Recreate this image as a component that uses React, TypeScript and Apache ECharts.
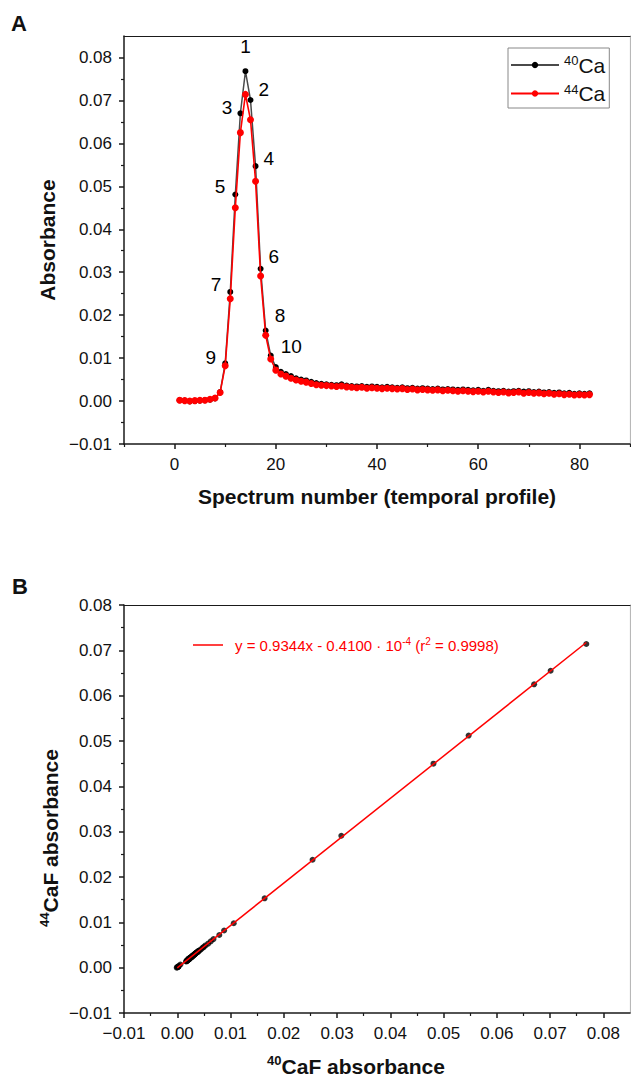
import React, { useEffect, useRef } from 'react';
import * as echarts from 'echarts';

// ---------- DATA ----------
const spectrumNumbers = [
  1, 2, 3, 4, 5, 6, 7, 8, 9, 10, 11, 12, 13, 14, 15, 16, 17, 18, 19, 20,
  21, 22, 23, 24, 25, 26, 27, 28, 29, 30, 31, 32, 33, 34, 35, 36, 37, 38, 39, 40,
  41, 42, 43, 44, 45, 46, 47, 48, 49, 50, 51, 52, 53, 54, 55, 56, 57, 58, 59, 60,
  61, 62, 63, 64, 65, 66, 67, 68, 69, 70, 71, 72, 73, 74, 75, 76, 77, 78, 79, 80,
  81, 82,
];

const ca40 = [
  0.0002, 0.0001, -0.0001, 0.0000, 0.0001, 0.0002, 0.0003, 0.0006, 0.0021, 0.0088,
  0.0254, 0.0481, 0.0670, 0.0768, 0.0701, 0.0547, 0.0308, 0.0164, 0.0106, 0.0079,
  0.0068, 0.0063, 0.0058, 0.0053, 0.0050, 0.0048, 0.0045, 0.0042, 0.0040, 0.0039,
  0.0038, 0.0037, 0.0039, 0.0036, 0.0035, 0.0034, 0.0035, 0.0033, 0.0034, 0.0033,
  0.0032, 0.0033, 0.0032, 0.0031, 0.0032, 0.0030, 0.0031, 0.0029, 0.0030, 0.0029,
  0.0028, 0.0029, 0.0027, 0.0028, 0.0027, 0.0026, 0.0027, 0.0026, 0.0025, 0.0026,
  0.0024, 0.0026, 0.0024, 0.0023, 0.0024, 0.0022, 0.0023, 0.0024, 0.0022, 0.0023,
  0.0021, 0.0022, 0.0020, 0.0021, 0.0019, 0.0020, 0.0018, 0.0019, 0.0017, 0.0018,
  0.0017, 0.0018,
];

const ca44 = [
  0.0002, 0.0001, 0.0000, 0.0001, 0.0002, 0.0002, 0.0004, 0.0007, 0.0020, 0.0082,
  0.0238, 0.0450, 0.0625, 0.0714, 0.0655, 0.0512, 0.0291, 0.0153, 0.0098, 0.0072,
  0.0063, 0.0058, 0.0053, 0.0049, 0.0046, 0.0044, 0.0041, 0.0038, 0.0037, 0.0036,
  0.0035, 0.0034, 0.0035, 0.0033, 0.0032, 0.0031, 0.0032, 0.0030, 0.0031, 0.0030,
  0.0029, 0.0030, 0.0029, 0.0028, 0.0029, 0.0027, 0.0028, 0.0026, 0.0027, 0.0026,
  0.0025, 0.0026, 0.0024, 0.0025, 0.0024, 0.0023, 0.0024, 0.0023, 0.0022, 0.0023,
  0.0021, 0.0023, 0.0021, 0.0020, 0.0021, 0.0019, 0.0020, 0.0021, 0.0018, 0.0020,
  0.0018, 0.0019, 0.0017, 0.0018, 0.0016, 0.0017, 0.0015, 0.0016, 0.0014, 0.0015,
  0.0014, 0.0015,
];

const peakLabels = ['1', '2', '3', '4', '5', '6', '7', '8', '9', '10'];
const peakSpectra = [14, 15, 13, 16, 12, 17, 11, 18, 10, 19];

const fitSlope = 0.9344;
const fitIntercept = -0.41e-4;
const fitR2 = 0.9998;

const aXTicks = [0, 20, 40, 60, 80];
const aXMinorTicks = [-10, 10, 30, 50, 70, 90];
const aYTicks = [-0.01, 0, 0.01, 0.02, 0.03, 0.04, 0.05, 0.06, 0.07, 0.08];
const aYMinorTicks = [-0.005, 0.005, 0.015, 0.025, 0.035, 0.045, 0.055, 0.065, 0.075];
const bXTicks = [-0.01, 0, 0.01, 0.02, 0.03, 0.04, 0.05, 0.06, 0.07, 0.08];
const bXMinorTicks = [-0.005, 0.005, 0.015, 0.025, 0.035, 0.045, 0.055, 0.065, 0.075];
const bYTicks = [-0.01, 0, 0.01, 0.02, 0.03, 0.04, 0.05, 0.06, 0.07, 0.08];
const bYMinorTicks = [-0.005, 0.005, 0.015, 0.025, 0.035, 0.045, 0.055, 0.065, 0.075];

// ---------- STYLE ----------
const FONT = '"Liberation Sans", Arial, Helvetica, sans-serif';
const AXIS_COLOR = '#1a1a1a';
const BORDER_LIGHT = '#b8b8b8';

// label placement for the numbered peak points (in order of peakLabels)
const peakLabelStyle: any[] = [
  { position: 'top', distance: 12, offset: [0, 0] },
  { position: 'right', distance: 5, offset: [0, -10] },
  { position: 'left', distance: 5, offset: [0, -6] },
  { position: 'right', distance: 5, offset: [0, -8] },
  { position: 'left', distance: 7, offset: [0, -8] },
  { position: 'right', distance: 5, offset: [0, -12] },
  { position: 'left', distance: 6, offset: [0, -7] },
  { position: 'right', distance: 6, offset: [0, -15] },
  { position: 'left', distance: 6, offset: [0, -6] },
  { position: 'right', distance: 7, offset: [0, -9] },
];

const fmt2 = (v: number) => {
  const s = Math.abs(v) < 1e-9 ? '0.00' : v.toFixed(2);
  return s.replace('-', '\u2212');
};

function mainAxis(gridIndex: number, min: number, max: number, ticks: number[], formatter: any, extra: any = {}) {
  return {
    type: 'value',
    gridIndex,
    min,
    max,
    axisLine: { show: true, onZero: false, lineStyle: { color: AXIS_COLOR, width: 1.5 } },
    axisTick: { show: true, customValues: ticks, length: 5, inside: false, lineStyle: { color: AXIS_COLOR, width: 1.5 } },
    axisLabel: { show: true, customValues: ticks, formatter, margin: 12, fontSize: 17, color: '#111', fontFamily: FONT },
    splitLine: { show: false },
    ...extra,
  };
}

function minorAxis(gridIndex: number, min: number, max: number, ticks: number[], position: string) {
  return {
    type: 'value',
    gridIndex,
    min,
    max,
    position,
    axisLine: { show: false, onZero: false },
    axisTick: { show: true, customValues: ticks, length: 3, inside: false, lineStyle: { color: AXIS_COLOR, width: 1.2 } },
    axisLabel: { show: false },
    splitLine: { show: false },
  };
}

function borderAxis(gridIndex: number, min: number, max: number, position: string, color: string) {
  return {
    type: 'value',
    gridIndex,
    min,
    max,
    position,
    axisLine: { show: true, onZero: false, lineStyle: { color, width: 1.2 } },
    axisTick: { show: false },
    axisLabel: { show: false },
    splitLine: { show: false },
  };
}

export default function App() {
  const ref = useRef<HTMLDivElement>(null);

  useEffect(() => {
    if (!ref.current) return;
    const chart = echarts.init(ref.current, undefined, { renderer: 'svg' });

    const blackData = spectrumNumbers.map((s, i) => {
      const k = peakSpectra.indexOf(s);
      const item: any = { value: [s, ca40[i]] };
      if (k >= 0) {
        item.label = {
          show: true,
          formatter: peakLabels[k],
          fontSize: 19,
          color: '#000',
          fontFamily: FONT,
          ...peakLabelStyle[k],
        };
      }
      return item;
    });
    const redData = spectrumNumbers.map((s, i) => [s, ca44[i]]);
    const scatterData = ca40.map((v, i) => [v, ca44[i]]);
    const xFitStart = Math.min(...ca40.filter((v) => v >= 0));
    const xFitEnd = Math.max(...ca40);
    const fitData = [
      [xFitStart, fitSlope * xFitStart + fitIntercept],
      [xFitEnd, fitSlope * xFitEnd + fitIntercept],
    ];

    const eqMain = `y = ${fitSlope.toFixed(4)}x - ${(-fitIntercept * 1e4).toFixed(4)} \u00b7 10`;

    const option: any = {
      animation: false,
      backgroundColor: '#ffffff',
      textStyle: { fontFamily: FONT },
      grid: [
        { left: 124, top: 36, width: 506, height: 408, show: false },
        { left: 124, top: 605, width: 506, height: 408, show: false },
      ],
      legend: [
        {
          data: ['40Ca', '44Ca'],
          orient: 'vertical',
          left: 508,
          top: 48,
          itemWidth: 48,
          itemHeight: 8,
          itemGap: 7,
          padding: [6, 4, 4, 2],
          borderColor: '#888',
          borderWidth: 1,
          borderRadius: 0,
          formatter: (name: string) => `{s|${name.slice(0, 2)}}{n|${name.slice(2)}}`,
          textStyle: {
            fontFamily: FONT,
            rich: {
              s: { fontSize: 13, verticalAlign: 'top', lineHeight: 12, color: '#111', fontFamily: FONT },
              n: { fontSize: 21, lineHeight: 22, color: '#111', fontFamily: FONT },
            },
          },
        },
      ],
      xAxis: [
        mainAxis(0, -10, 90, aXTicks, (v: number) => String(v), {
          position: 'bottom',
          name: 'Spectrum number (temporal profile)',
          nameLocation: 'middle',
          nameGap: 42,
          nameTextStyle: { fontSize: 21, fontWeight: 'bold', color: '#111', fontFamily: FONT },
        }),
        minorAxis(0, -10, 90, aXMinorTicks, 'bottom'),
        borderAxis(0, -10, 90, 'top', AXIS_COLOR),
        mainAxis(1, -0.01, 0.085, bXTicks, fmt2, { position: 'bottom' }),
        minorAxis(1, -0.01, 0.085, bXMinorTicks, 'bottom'),
        borderAxis(1, -0.01, 0.085, 'top', AXIS_COLOR),
      ],
      yAxis: [
        mainAxis(0, -0.01, 0.085, aYTicks, fmt2, {
          position: 'left',
          name: 'Absorbance',
          nameLocation: 'middle',
          nameGap: 64,
          nameTextStyle: { fontSize: 21, fontWeight: 'bold', color: '#111', fontFamily: FONT },
        }),
        minorAxis(0, -0.01, 0.085, aYMinorTicks, 'left'),
        borderAxis(0, -0.01, 0.085, 'right', BORDER_LIGHT),
        mainAxis(1, -0.01, 0.08, bYTicks, fmt2, { position: 'left' }),
        minorAxis(1, -0.01, 0.08, bYMinorTicks, 'left'),
        borderAxis(1, -0.01, 0.08, 'right', BORDER_LIGHT),
      ],
      series: [
        {
          name: '40Ca',
          type: 'line',
          xAxisIndex: 0,
          yAxisIndex: 0,
          data: blackData,
          symbol: 'circle',
          symbolSize: 6,
          showAllSymbol: true,
          itemStyle: { color: '#000' },
          lineStyle: { color: '#4a4a4a', width: 1.5 },
          z: 2,
        },
        {
          name: '44Ca',
          type: 'line',
          xAxisIndex: 0,
          yAxisIndex: 0,
          data: redData,
          symbol: 'circle',
          symbolSize: 7,
          showAllSymbol: true,
          itemStyle: { color: '#ff0000' },
          lineStyle: { color: '#ff0000', width: 1.6 },
          z: 3,
        },
        {
          name: 'points',
          type: 'scatter',
          xAxisIndex: 3,
          yAxisIndex: 3,
          data: scatterData,
          symbol: 'circle',
          symbolSize: 6,
          itemStyle: { color: '#000' },
          z: 2,
        },
        {
          name: 'fit',
          type: 'line',
          xAxisIndex: 3,
          yAxisIndex: 3,
          data: fitData,
          showSymbol: false,
          symbol: 'none',
          lineStyle: { color: '#ff0000', width: 1.5 },
          z: 3,
        },
      ],
      graphic: [
        { type: 'text', left: 11, top: 12, style: { text: 'A', fontSize: 22, fontWeight: 'bold', fill: '#111', fontFamily: FONT } },
        { type: 'text', left: 12, top: 575, style: { text: 'B', fontSize: 22, fontWeight: 'bold', fill: '#111', fontFamily: FONT } },
        {
          type: 'line',
          shape: { x1: 193, y1: 645, x2: 223, y2: 645 },
          style: { stroke: '#ff0000', lineWidth: 1.5 },
        },
        {
          type: 'text',
          x: 235,
          y: 645,
          style: {
            text: `{n|${eqMain}}{s|-4}{n| (r}{s|2}{n| = ${fitR2.toFixed(4)})}`,
            verticalAlign: 'middle',
            align: 'left',
            rich: {
              n: { fontSize: 15, lineHeight: 18, fill: '#ff0000', fontFamily: FONT },
              s: { fontSize: 10, lineHeight: 10, verticalAlign: 'top', fill: '#ff0000', fontFamily: FONT },
            },
          },
        },
        {
          type: 'text',
          x: 50,
          y: 838,
          rotation: Math.PI / 2,
          style: {
            text: '{s|44}{b|CaF absorbance}',
            align: 'center',
            verticalAlign: 'middle',
            rich: {
              s: { fontSize: 13, fontWeight: 'bold', lineHeight: 13, verticalAlign: 'top', fill: '#111', fontFamily: FONT },
              b: { fontSize: 21, fontWeight: 'bold', lineHeight: 24, fill: '#111', fontFamily: FONT },
            },
          },
        },
        {
          type: 'text',
          x: 356,
          y: 1066,
          style: {
            text: '{s|40}{b|CaF absorbance}',
            align: 'center',
            verticalAlign: 'middle',
            rich: {
              s: { fontSize: 13, fontWeight: 'bold', lineHeight: 13, verticalAlign: 'top', fill: '#111', fontFamily: FONT },
              b: { fontSize: 21, fontWeight: 'bold', lineHeight: 24, fill: '#111', fontFamily: FONT },
            },
          },
        },
      ],
    };

    chart.setOption(option);
    return () => chart.dispose();
  }, []);

  return (
    <div
      ref={ref}
      style={{ position: 'absolute', left: 0, top: 0, width: 631, height: 1078, background: '#fff' }}
    />
  );
}
